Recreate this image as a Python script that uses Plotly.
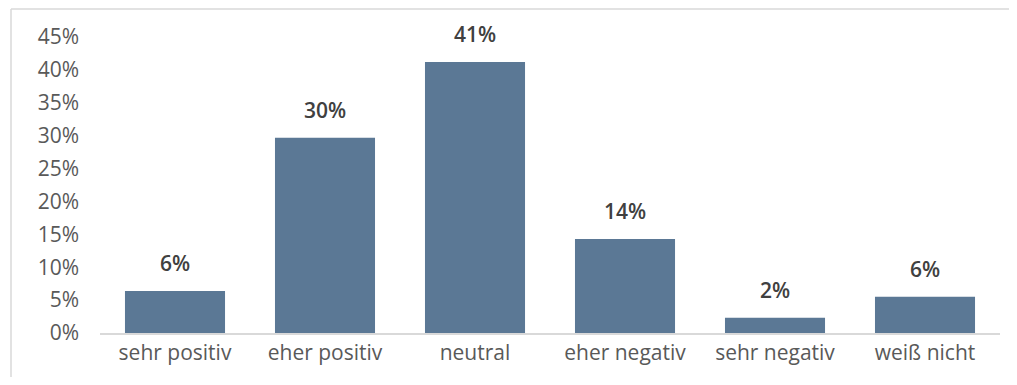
import plotly.graph_objects as go

categories = ["sehr positiv", "eher positiv", "neutral", "eher negativ", "sehr negativ", "weiß nicht"]
values = [6.4, 29.7, 41.2, 14.3, 2.3, 5.5]
labels = ["6%", "30%", "41%", "14%", "2%", "6%"]
y_ticks = [0, 5, 10, 15, 20, 25, 30, 35, 40, 45]
y_ticktext = [f"{t}%" for t in y_ticks]

FONT = "Open Sans"
BAR = "#5b7895"

fig = go.Figure()
fig.add_trace(go.Bar(x=categories, y=values, marker=dict(color=BAR, line=dict(width=0)),
                     hoverinfo="skip"))

for c, v, t in zip(categories, values, labels):
    fig.add_annotation(x=c, y=v, text=t, showarrow=False, yanchor="bottom", yshift=12,
                       font=dict(family=FONT, size=21, color="#404040", weight=600))

# page body has an 8px margin, so the figure is offset by 8px
OFF = 8
W, H = 1017 - 2 * OFF, 385 - 2 * OFF
L, T = 100 - OFF, 37 - OFF
R = W - (1000 - OFF)
B = H - (333 - OFF)
pw, ph = W - L - R, H - T - B

def px(x):
    return (x - OFF - L) / pw

def py(y):
    return (H - B - (y - OFF)) / ph

frame = dict(color="#d9d9d9", width=1.5)
fig.add_shape(type="line", xref="paper", yref="paper",
              x0=px(11), x1=px(1017), y0=py(9), y1=py(9), line=frame, layer="below")
fig.add_shape(type="line", xref="paper", yref="paper",
              x0=px(11), x1=px(11), y0=py(9), y1=py(385), line=frame, layer="below")

fig.update_layout(
    width=W, height=H,
    margin=dict(l=L, r=R, t=T, b=B),
    paper_bgcolor="white", plot_bgcolor="white",
    bargap=0.333,
    showlegend=False,
    font=dict(family=FONT, color="#595959"),
    xaxis=dict(showline=True, linecolor="#d9d9d9", linewidth=2, ticks="",
               tickfont=dict(family=FONT, size=21, color="#595959"), showgrid=False,
               fixedrange=True),
    yaxis=dict(range=[0, 45], tickvals=y_ticks, ticktext=y_ticktext, showgrid=False,
               zeroline=False, showline=False, ticks="", ticklabelstandoff=20,
               tickfont=dict(family=FONT, size=21, color="#595959"), fixedrange=True),
)

fig.write_html("out.html")
